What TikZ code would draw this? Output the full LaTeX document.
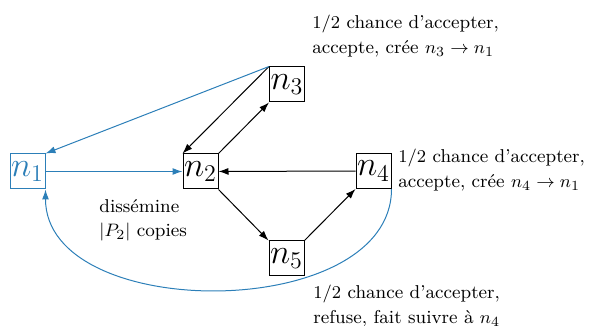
\documentclass[tikz,border=0pt]{standalone}
\usepackage{fontspec}
\usetikzlibrary{arrows.meta}
\definecolor{nblue}{RGB}{44,127,184}
\begin{document}
\begin{tikzpicture}[x=0.5pt,y=-0.5pt,
  nbox/.style={draw, minimum size=17.5pt, inner sep=0.5pt, font=\LARGE, line width=0.5pt},
  arr/.style={-{Latex[length=5pt,width=3.5pt]}, line width=0.5pt},
  lbl/.style={align=left, inner sep=0pt, anchor=north west, font=\fontsize{9.3}{12.2}\selectfont}]
\useasboundingbox (0,0) rectangle (590,326);
\node[nbox, draw=nblue, text=nblue] (n1) at (27.5,171.5) {$n_1$};
\node[nbox] (n2) at (200.5,171.5) {$n_2$};
\node[nbox] (n3) at (287,84.5) {$n_3$};
\node[nbox] (n4) at (373.5,171) {$n_4$};
\node[nbox] (n5) at (286.5,258.5) {$n_5$};
\draw[arr] (n2.north east) -- (n3.south west);
\draw[arr] (n3.north west) -- (n2.north west);
\draw[arr, nblue] (n3.north west) -- (n1.north east);
\draw[arr, nblue] (n1) -- (n2);
\draw[arr] (n4) -- (n2);
\draw[arr] (n2.south east) -- (n5.north west);
\draw[arr] (n5.north east) -- (n4.south west);
\draw[arr, nblue] (n4.south east) .. controls +(0,134) and +(0,134) .. (n1.south east);
\node[lbl] (l3) at (312,15) {$1/2$ chance d'accepter,\\ accepte, crée $n_3\to n_1$};
\node[lbl] (l4) at (398,149) {$1/2$ chance d'accepter,\\ accepte, crée $n_4\to n_1$};
\node[lbl] (l1) at (313,285) {$1/2$ chance d'accepter,\\ refuse, fait suivre à $n_4$};
\node[lbl] (ld) at (99,199) {dissémine\\ $|P_2|$ copies};
\end{tikzpicture}
\end{document}
